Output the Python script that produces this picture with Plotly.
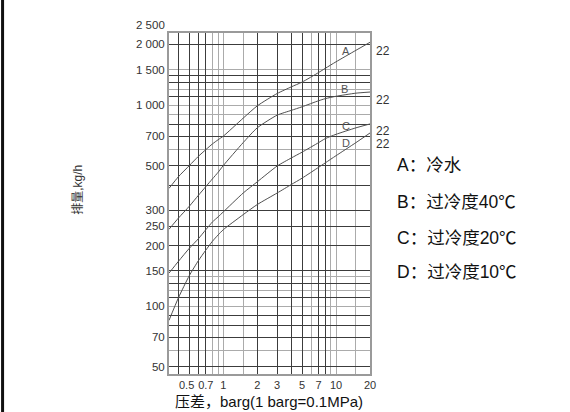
import numpy as np
import plotly.graph_objects as go

# =============================================================================
# DATA
# =============================================================================

dp = [0.33, 0.4, 0.5, 0.6, 0.7, 0.8, 0.9, 1, 1.5, 2, 3, 4, 5, 7, 8, 10, 15, 20]

flow_a = [385, 440, 500, 555, 600, 640, 672, 700, 860, 990, 1140, 1230, 1300, 1450, 1520, 1640, 1870, 2050]
flow_b = [241, 274, 314, 355, 393, 429, 463, 500, 650, 770, 890, 940, 980, 1050, 1075, 1105, 1145, 1160]
flow_c = [146, 167, 194, 216, 240, 262, 278, 294, 365, 415, 497, 545, 583, 650, 680, 715, 770, 805]
flow_d = [85, 110, 142, 168, 190, 210, 226, 240, 285, 320, 365, 402, 433, 490, 515, 560, 650, 726]

curve_names = ['A', 'B', 'C', 'D']
curve_sizes = ['22', '22', '22', '22']
legend_lines = ['A：冷水', 'B：过冷度40℃', 'C：过冷度20℃', 'D：过冷度10℃']

x_tickvals = [0.5, 0.7, 1, 2, 3, 5, 7, 10, 20]
x_ticktext = ['0.5\u2002', '0.7', '1', '2', '3', '5', '7', '10', '20']
y_tickvals = [50, 70, 100, 150, 200, 250, 300, 500, 700, 1000, 1500, 2000]
y_ticktext = ['50', '70', '100', '150', '200', '250', '300', '500', '700',
              '1 000', '1 500', '2 000']

x_grid_dark = [0.4, 0.5, 0.6, 0.7, 2, 3, 4, 5, 7, 8]
x_grid_light = [0.8, 0.9, 1, 1.5, 6, 9, 10, 15]
y_grid_dark = [50, 70, 80, 90, 110, 130, 150, 200, 250, 300, 400, 500, 700, 800,
               1100, 1300, 1400, 2000]
y_grid_light = [60, 100, 120, 140, 600, 900, 1000, 1200, 1500]

# =============================================================================
# FIGURE
# =============================================================================

X_RANGE = [np.log10(0.33), np.log10(20)]
Y_RANGE = [np.log10(46), np.log10(2280)]
TXT = '#333333'
FONT = 'Liberation Sans, Arial, Noto Sans CJK SC, sans-serif'

fig = go.Figure()

for ys in [flow_a, flow_b, flow_c, flow_d]:
    fig.add_trace(go.Scatter(
        x=dp, y=ys, mode='lines',
        line=dict(color='#505050', width=1, shape='spline', smoothing=0.6),
        showlegend=False, hoverinfo='skip'
    ))

# empty traces so the overlay grids get their own subplots
fig.add_trace(go.Scatter(x=[], y=[], xaxis='x2', yaxis='y2', showlegend=False))
fig.add_trace(go.Scatter(x=[], y=[], xaxis='x3', yaxis='y3', showlegend=False))

grid_axis = dict(type='log', showticklabels=False, ticks='', zeroline=False,
                 tickmode='array', gridwidth=1, automargin=False)

fig.update_layout(
    width=570, height=412,
    margin=dict(l=169, r=200, t=33, b=38, autoexpand=False),
    paper_bgcolor='white', plot_bgcolor='white',
    font=dict(family=FONT, size=12, color=TXT),
    xaxis=dict(type='log', range=X_RANGE, tickmode='array',
               tickvals=x_tickvals, ticktext=x_ticktext, showgrid=False,
               ticks='', showline=True, mirror=True, linecolor='#9a9a9a',
               linewidth=2, tickangle=0, automargin=False,
               tickfont=dict(size=11, color=TXT)),
    yaxis=dict(type='log', range=Y_RANGE, tickmode='array',
               tickvals=y_tickvals, ticktext=y_ticktext, showgrid=False,
               ticks='', showline=True, mirror=True, linecolor='#9a9a9a',
               linewidth=2, automargin=False,
               tickfont=dict(size=11.5, color=TXT)),
    xaxis2=dict(grid_axis, overlaying='x', range=X_RANGE,
                tickvals=x_grid_light, gridcolor='#ababab'),
    yaxis2=dict(grid_axis, overlaying='y', range=Y_RANGE,
                tickvals=y_grid_light, gridcolor='#ababab'),
    xaxis3=dict(grid_axis, overlaying='x', range=X_RANGE,
                tickvals=x_grid_dark, gridcolor='#3c3c3c'),
    yaxis3=dict(grid_axis, overlaying='y', range=Y_RANGE,
                tickvals=y_grid_dark, gridcolor='#3c3c3c'),
)

ann = []
# 2 500 label above the plot top
ann.append(dict(text='2 500', xref='paper', yref='paper', x=-0.012,
                y=1.023, xanchor='right', yanchor='middle',
                showarrow=False, font=dict(size=11.5, color=TXT)))

# curve letters and end labels
letter_pos = [(0.881, 0.948), (0.872, 0.836), (0.881, 0.727), (0.881, 0.677)]
size_pos = [0.975, 0.83, 0.74, 0.70]
for name, (px, py) in zip(curve_names, letter_pos):
    ann.append(dict(text=name, xref='paper', yref='paper', x=px, y=py,
                    xanchor='center', yanchor='middle', showarrow=False,
                    font=dict(size=11, color='#555555')))
for s, py in zip(curve_sizes, size_pos):
    ann.append(dict(text=s, xref='paper', yref='paper', x=1.022, y=py,
                    xanchor='left', showarrow=False,
                    font=dict(size=12, color=TXT)))

# side legend
legend_y = [0.613, 0.504, 0.399, 0.299]
for t, py in zip(legend_lines, legend_y):
    ann.append(dict(text=t, xref='paper', yref='paper', x=1.124, y=py,
                    xanchor='left', yanchor='middle', showarrow=False,
                    font=dict(size=17.5, color='#111111')))

# axis titles
ann.append(dict(text='排量,kg/h', xref='paper', yref='paper', x=-0.453, y=0.54,
                xanchor='center', yanchor='middle', textangle=-90,
                showarrow=False, font=dict(size=12, color=TXT)))
ann.append(dict(text='压差，barg(1 barg=0.1MPa)', xref='paper', yref='paper',
                x=0.4975, y=-0.082, xanchor='center', yanchor='middle',
                showarrow=False, font=dict(size=15, color='#111111')))

fig.update_layout(annotations=ann)

# black page border on the left side
fig.add_shape(type='line', xref='paper', yref='paper',
              x0=-0.828, x1=-0.828, y0=-0.2, y1=1.2,
              line=dict(color='#111111', width=3))

# drop the default 8px body margin so the figure sits at the window corner
fig.write_html('out.html', config={'displayModeBar': False},
               post_script="document.body.style.margin='0';")
